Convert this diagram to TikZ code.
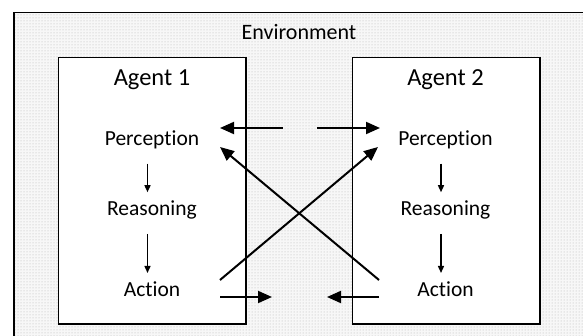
\documentclass[tikz,border=0pt]{standalone}
\usepackage{fontspec}
\setmainfont{Carlito}[Ligatures=NoCommon]
\usetikzlibrary{arrows.meta}
\usetikzlibrary{patterns}
\usetikzlibrary{positioning}

\tikzset{
  bigarrow/.style={-{Triangle[length=14pt,width=12pt]}, line width=2pt},
  smallarrow/.style={-{Triangle[length=7pt,width=6pt]}, line width=1.4pt},
  agentbox/.style={draw, line width=1.3pt, fill=white},
  stagetext/.style={font=\fontsize{21.5}{25}\selectfont},
  agenttext/.style={font=\fontsize{24.5}{29}\selectfont},
}

\begin{document}
\begin{tikzpicture}[x=1pt,y=-1pt]
    \useasboundingbox (0,0) rectangle (583,336);
    \clip (0,0) rectangle (583,336);
    \fill[white] (0,0) rectangle (583,336);
    \fill[gray!6] (14,12.5) rectangle (600,350);
    \draw[line width=1.3pt, pattern=dots, pattern color=gray!60] (14,12.5) rectangle (600,350);
    \node[font=\fontsize{22}{26}\selectfont] (env) at (299,32) {Environment};
    \draw[agentbox] (58.5,57.5) rectangle (246,324);
    \draw[agentbox] (352.7,57.5) rectangle (540,324);
    \foreach \n/\x in {1/152,2/445.5} {
	\node[agenttext] (agent\n) at (\x,80) {Agent \n};
	\node[stagetext] (perc\n) at (\x,140) {Perception};
	\node[stagetext] (reas\n) at (\x,210) {Reasoning};
	\node[stagetext] (act\n) at (\x,289) {Action};
	\draw[smallarrow] ([xshift=-4.5pt,yshift=-11pt]perc\n.south) -- ([xshift=-4.5pt,yshift=5pt]reas\n.north);
	\draw[smallarrow] ([xshift=-4.5pt,yshift=-11pt]reas\n.south) -- ([xshift=-4.5pt,yshift=5pt]act\n.north);
    }
    \coordinate (outL) at (283,128);
    \coordinate (inL) at (220,128);
    \coordinate (outR) at (317,128);
    \coordinate (inR) at (380,128);
    \coordinate (fromA1) at (220,280);
    \coordinate (toP2) at (378,147);
    \coordinate (fromA2) at (379,280);
    \coordinate (toP1) at (220,147);
    \coordinate (effA1) at (220,297);
    \coordinate (hitA1) at (272,297);
    \coordinate (effA2) at (379,297);
    \coordinate (hitA2) at (327,297);
    \draw[bigarrow] (outL) -- (inL);
    \draw[bigarrow] (outR) -- (inR);
    \draw[bigarrow] (fromA1) -- (toP2);
    \draw[bigarrow] (fromA2) -- (toP1);
    \draw[bigarrow] (effA1) -- (hitA1);
    \draw[bigarrow] (effA2) -- (hitA2);
\end{tikzpicture}
\end{document}
